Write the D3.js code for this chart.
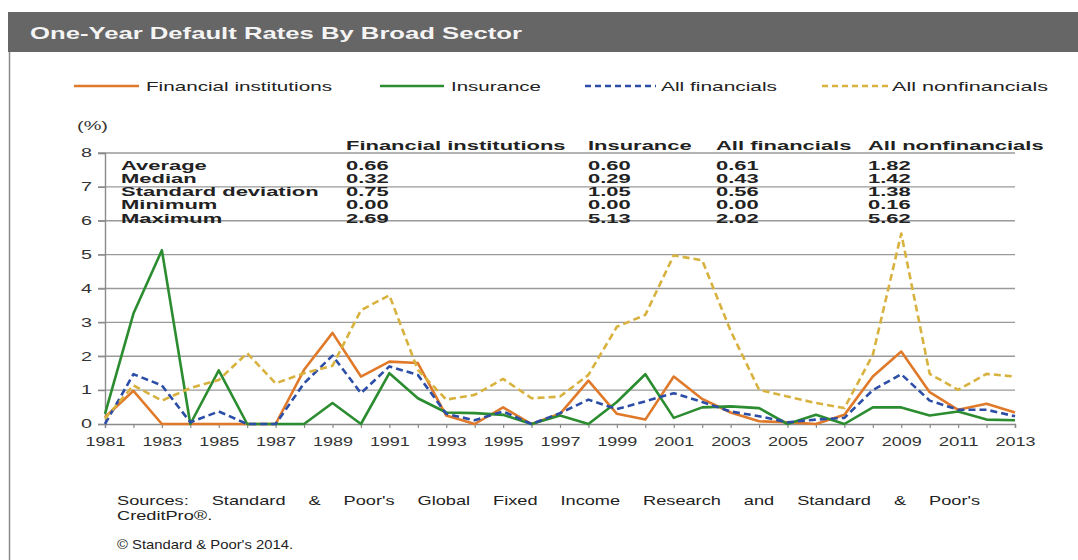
<!DOCTYPE html>
<html>
<head>
<meta charset="utf-8">
<script src="https://cdn.jsdelivr.net/npm/d3@7"></script>
<style>
  body { margin: 0; background: #fff; }
  svg { display: block; font-family: "Liberation Sans", Arial, sans-serif; }
</style>
</head>
<body>
<svg id="chart"></svg>
<script>
const outerWidth = 1078;
const outerHeight = 560;
const plot = { left: 105, right: 1015, top: 153, bottom: 424 };

// values (%)
const years = [1981, 1982, 1983, 1984, 1985, 1986, 1987, 1988, 1989, 1990, 1991,
    1992, 1993, 1994, 1995, 1996, 1997, 1998, 1999, 2000, 2001, 2002,
    2003, 2004, 2005, 2006, 2007, 2008, 2009, 2010, 2011, 2012, 2013];
const financialInstitutions = [0.20, 0.98, 0.00, 0.00, 0.00, 0.00, 0.00, 1.60, 2.69, 1.40, 1.84,
    1.80, 0.25, 0.00, 0.49, 0.00, 0.30, 1.28, 0.30, 0.13, 1.40, 0.74,
    0.34, 0.08, 0.05, 0.00, 0.27, 1.40, 2.14, 0.94, 0.42, 0.60, 0.34];
const insurance = [0.30, 3.26, 5.13, 0.00, 1.58, 0.00, 0.00, 0.00, 0.62, 0.00, 1.50,
    0.76, 0.34, 0.32, 0.27, 0.00, 0.25, 0.00, 0.65, 1.47, 0.18, 0.49,
    0.52, 0.47, 0.00, 0.27, 0.00, 0.49, 0.49, 0.25, 0.37, 0.13, 0.11];
const allFinancials = [0.00, 1.47, 1.14, 0.05, 0.37, 0.00, 0.00, 1.20, 2.02, 0.91, 1.70,
    1.45, 0.30, 0.11, 0.37, 0.00, 0.32, 0.72, 0.44, 0.67, 0.91, 0.65,
    0.37, 0.23, 0.05, 0.13, 0.18, 1.00, 1.47, 0.69, 0.42, 0.42, 0.23];
const allNonfinancials = [0.16, 1.14, 0.69, 1.06, 1.30, 2.09, 1.20, 1.50, 1.72, 3.36, 3.80,
    1.60, 0.72, 0.86, 1.33, 0.76, 0.81, 1.45, 2.87, 3.22, 4.98, 4.83,
    2.75, 1.01, 0.81, 0.62, 0.47, 2.04, 5.62, 1.48, 1.01, 1.48, 1.40];

const seriesNames = ["Financial institutions", "Insurance", "All financials", "All nonfinancials"];
const seriesColors = ["#e07a2b", "#2b8c30", "#2c4ea6", "#d8b23e"];
const seriesDashed = [false, false, true, true];

const statLabels = ["Average", "Median", "Standard deviation", "Minimum", "Maximum"];
const statFinancialInstitutions = ["0.66", "0.32", "0.75", "0.00", "2.69"];
const statInsurance = ["0.60", "0.29", "1.05", "0.00", "5.13"];
const statAllFinancials = ["0.61", "0.43", "0.56", "0.00", "2.02"];
const statAllNonfinancials = ["1.82", "1.42", "1.38", "0.16", "5.62"];

const yTicks = [0, 1, 2, 3, 4, 5, 6, 7, 8];
const xLabelYears = [1981, 1983, 1985, 1987, 1989, 1991, 1993, 1995, 1997, 1999, 2001, 2003, 2005, 2007, 2009, 2011, 2013];

const svg = d3.select("#chart")
    .attr("width", outerWidth)
    .attr("height", outerHeight);

// frame + header
svg.append("line")
    .attr("x1", 9.5).attr("x2", 9.5)
    .attr("y1", 12).attr("y2", outerHeight)
    .attr("stroke", "#8a8a8a").attr("stroke-width", 1.5);

svg.append("rect")
    .attr("x", 8).attr("y", 12)
    .attr("width", outerWidth - 8).attr("height", 40)
    .attr("fill", "#666666");

svg.append("text")
    .attr("x", 30).attr("y", 38.5)
    .attr("textLength", 492)
    .attr("lengthAdjust", "spacingAndGlyphs")
    .style("font-size", "17px")
    .style("font-weight", "bold")
    .attr("fill", "#f4f4f4")
    .text("One-Year Default Rates By Broad Sector");

// legend
const legendItems = [
    { x1: 74, x2: 139, tx: 146, tw: 186 },
    { x1: 380, x2: 444, tx: 451, tw: 90 },
    { x1: 585, x2: 656, tx: 661, tw: 116 },
    { x1: 822, x2: 888, tx: 892, tw: 156 }
];
const legend = svg.append("g");
seriesNames.forEach((name, i) => {
    const it = legendItems[i];
    legend.append("line")
        .attr("x1", it.x1).attr("x2", it.x2)
        .attr("y1", 86).attr("y2", 86)
        .attr("stroke", seriesColors[i])
        .attr("stroke-width", 2.5)
        .attr("stroke-dasharray", seriesDashed[i] ? "6,4" : null);
    legend.append("text")
        .attr("x", it.tx).attr("y", 91)
        .attr("textLength", it.tw)
        .attr("lengthAdjust", "spacingAndGlyphs")
        .style("font-size", "13px")
        .attr("fill", "#222")
        .text(name);
});

const x = d3.scaleLinear().domain([1981, 2013]).range([plot.left, plot.right]);
const y = d3.scaleLinear().domain([0, 8]).range([plot.bottom, plot.top]);

// grid
svg.append("g")
    .selectAll("line")
    .data(yTicks.filter(d => d > 0))
    .enter().append("line")
    .attr("x1", plot.left - 7).attr("x2", plot.right)
    .attr("y1", d => y(d)).attr("y2", d => y(d))
    .attr("stroke", "#9a9a9a")
    .attr("stroke-width", 1.4);

// axes
const yAxis = svg.append("g")
    .attr("transform", `translate(${plot.left},0)`)
    .call(d3.axisLeft(y).tickValues(yTicks).tickSize(7).tickPadding(6));
yAxis.selectAll("text")
    .attr("textLength", 11)
    .attr("lengthAdjust", "spacingAndGlyphs")
    .style("font-size", "12px")
    .attr("fill", "#333");

const xAxis = svg.append("g")
    .attr("transform", `translate(0,${plot.bottom})`)
    .call(d3.axisBottom(x).tickValues(years).tickSize(4).tickPadding(9)
        .tickFormat(d => xLabelYears.includes(d) ? String(d) : ""));
xAxis.selectAll("text")
    .filter(d => xLabelYears.includes(d))
    .attr("textLength", 40)
    .attr("lengthAdjust", "spacingAndGlyphs")
    .style("font-size", "12px")
    .attr("fill", "#333");

[yAxis, xAxis].forEach(ax => {
    ax.select(".domain").attr("stroke", "#8a8a8a").attr("stroke-width", 1.4);
    ax.selectAll(".tick line").attr("stroke", "#8a8a8a").attr("stroke-width", 1.2);
});

svg.append("text")
    .attr("x", 77).attr("y", 130)
    .attr("textLength", 31)
    .attr("lengthAdjust", "spacingAndGlyphs")
    .style("font-size", "12px")
    .attr("fill", "#333")
    .text("(%)");

// stats table
const statColumns = [statFinancialInstitutions, statInsurance, statAllFinancials, statAllNonfinancials];
const columnX = [346, 588, 716, 868];
const rowY = [169.5, 182.8, 196, 209.3, 222.6];
const tableScale = 1.83;

function tableText(xp, yp, str) {
    svg.append("text")
        .attr("transform", `translate(${xp},${yp}) scale(${tableScale},1)`)
        .style("font-size", "12px")
        .style("font-weight", "bold")
        .attr("fill", "#222")
        .text(str);
}

seriesNames.forEach((name, i) => tableText(columnX[i], 150, name));
statLabels.forEach((label, r) => {
    tableText(121, rowY[r], label);
    statColumns.forEach((col, c) => tableText(columnX[c], rowY[r], col[r]));
});

// lines
const seriesValues = [financialInstitutions, insurance, allFinancials, allNonfinancials];
const line = d3.line()
    .x((d, i) => x(years[i]))
    .y(d => y(d));

seriesValues.forEach((vals, i) => {
    svg.append("path")
        .datum(vals)
        .attr("fill", "none")
        .attr("stroke", seriesColors[i])
        .attr("stroke-width", 2.6)
        .attr("stroke-linejoin", "round")
        .attr("stroke-dasharray", seriesDashed[i] ? "7,4" : null)
        .attr("d", line);
});

// sources, justified: glyphs widened a bit, the rest goes into word gaps
const srcScale = 1.4;
const srcWidth = 863;
const src = svg.append("text")
    .attr("transform", `translate(117,505) scale(${srcScale},1)`)
    .style("font-size", "13px")
    .attr("fill", "#222")
    .text("Sources: Standard & Poor's Global Fixed Income Research and Standard & Poor's");
const natural = src.node().getComputedTextLength();
const gaps = src.text().split(" ").length - 1;
src.style("word-spacing", `${(srcWidth / srcScale - natural) / gaps}px`);

svg.append("text")
    .attr("transform", `translate(117,520) scale(${srcScale},1)`)
    .style("font-size", "13px")
    .attr("fill", "#222")
    .text("CreditPro®.");

svg.append("text")
    .attr("x", 117).attr("y", 549)
    .attr("textLength", 176)
    .attr("lengthAdjust", "spacingAndGlyphs")
    .style("font-size", "13px")
    .attr("fill", "#222")
    .text("© Standard & Poor's 2014.");
</script>
</body>
</html>
